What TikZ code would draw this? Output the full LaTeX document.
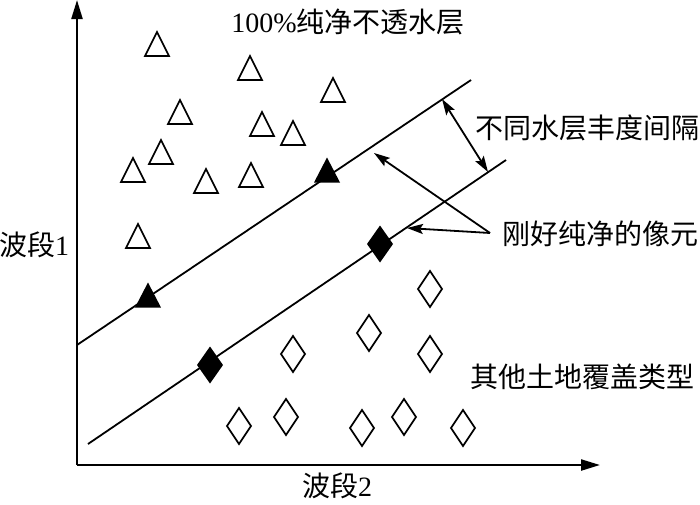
\documentclass[tikz,border=0pt]{standalone}
\usepackage{fontspec}
\setmainfont{Liberation Serif}
\newfontfamily\cjk{Noto Sans CJK SC}
\usetikzlibrary{arrows.meta}
\begin{document}
\begin{tikzpicture}[x=1pt,y=-1pt,
  lbl/.style={font=\fontsize{28}{32}\selectfont, inner sep=0pt, anchor=center},
  axisline/.style={line width=2.2pt, -{Triangle[length=19pt,width=11pt]}},
  bline/.style={line width=1.8pt},
  ptr/.style={line width=1.8pt, -{Stealth[length=16pt,width=10pt,inset=3pt]}},
  dptr/.style={line width=1.8pt, {Stealth[length=16pt,width=10pt,inset=3pt]}-{Stealth[length=16pt,width=10pt,inset=3pt]}},
  htri/.pic={\draw[line width=1.7pt, line join=miter] (-12,12) -- (0,-12) -- (12,12) -- cycle;},
  ftri/.pic={\fill (-13,12.5) -- (0,-12.5) -- (13,12.5) -- cycle;},
  hdia/.pic={\draw[line width=1.7pt, line join=miter] (0,-18) -- (12,0) -- (0,18) -- (-12,0) -- cycle;},
  fdia/.pic={\fill (0,-18.5) -- (13,0) -- (0,18.5) -- (-13,0) -- cycle;}
]
\useasboundingbox (0,0) rectangle (700,504);

% axes
\coordinate (O) at (77,465);
\coordinate (ytop) at (77,0);
\coordinate (xend) at (600,465);
\draw[axisline] (O) -- (ytop);
\draw[axisline] (O) -- (xend);

% separating lines
\coordinate (u1) at (77,345);
\coordinate (u2) at (471,80);
\coordinate (l1) at (88,444);
\coordinate (l2) at (506,160);
\draw[bline] (u1) -- (u2);
\draw[bline] (l1) -- (l2);

% hollow triangles
\pic (t1) at (157,44) {htri};
\pic (t2) at (250,68) {htri};
\pic (t3) at (333,90) {htri};
\pic (t4) at (180,112) {htri};
\pic (t5) at (262,124) {htri};
\pic (t6) at (293,133) {htri};
\pic (t7) at (161,152) {htri};
\pic (t8) at (133,170) {htri};
\pic (t9) at (206,181) {htri};
\pic (t10) at (251,175) {htri};
\pic (t11) at (138,236) {htri};

% filled triangles
\pic (ft1) at (148,295) {ftri};
\pic (ft2) at (327,170) {ftri};

% hollow diamonds
\pic (d1) at (293,354) {hdia};
\pic (d2) at (239,426) {hdia};
\pic (d3) at (286,417) {hdia};
\pic (d4) at (430,289) {hdia};
\pic (d5) at (369,333) {hdia};
\pic (d6) at (430,354) {hdia};
\pic (d7) at (362,428) {hdia};
\pic (d8) at (404,417) {hdia};
\pic (d9) at (463,428) {hdia};

% filled diamonds
\pic (fd1) at (210,365) {fdia};
\pic (fd2) at (380,244) {fdia};

% labels
\node[lbl] (top) at (348,22) {100\%{\cjk 纯净不透水层}};
\node[lbl] (gap) at (587,128) {\cjk 不同水层丰度间隔};
\node[lbl] (pure) at (600,234) {\cjk 刚好纯净的像元};
\node[lbl] (other) at (582,377) {\cjk 其他土地覆盖类型};
\node[lbl] (b1) at (34,245) {{\cjk 波段}1};
\node[lbl] (b2) at (337,486) {{\cjk 波段}2};

% arrows
\coordinate (ga) at (442,99);
\coordinate (gb) at (488,172);
\draw[dptr] (ga) -- (gb);
\coordinate (src) at (490,233);
\coordinate (tipA) at (374,153);
\coordinate (tipB) at (407,228);
\draw[ptr] (src) -- (tipA);
\draw[ptr] (src) -- (tipB);
\end{tikzpicture}
\end{document}
